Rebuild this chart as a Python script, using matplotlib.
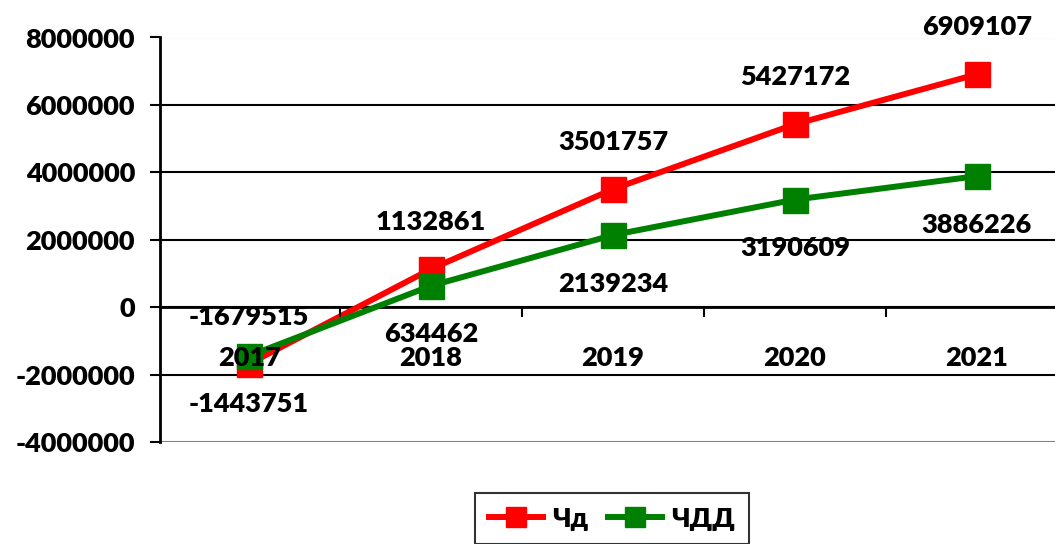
import matplotlib.pyplot as plt
import matplotlib.ticker as mticker

years = ["2017", "2018", "2019", "2020", "2021"]
chd = [-1679515, 1132861, 3501757, 5427172, 6909107]
chdd = [-1443751, 634462, 2139234, 3190609, 3886226]
yticks = [-4000000, -2000000, 0, 2000000, 4000000, 6000000, 8000000]

plt.rcParams['font.family'] = ['Lato', 'DejaVu Sans']
plt.rcParams['font.weight'] = 'heavy'
fs = 19.5

fig = plt.figure(figsize=(10.55, 5.44), dpi=100)
ax = fig.add_axes([160 / 1055, 1 - 442 / 544, 1 - 160 / 1055, (442 - 37.5) / 544])

x = list(range(len(years)))
ax.plot(x, chd, "s-", color="#ff0000", lw=4.3, ms=18, label="Чд", zorder=3)
ax.plot(x, chdd, "s-", color="#008000", lw=4.3, ms=18, label="ЧДД", zorder=4)

for xi, v in zip(x, chd):
    ax.annotate(str(v), (xi, v), xytext=(0, 34), textcoords="offset points",
                ha="center", va="center", fontsize=fs, fontweight="heavy")
for xi, v in zip(x, chdd):
    ax.annotate(str(v), (xi, v), xytext=(0, -35), textcoords="offset points",
                ha="center", va="center", fontsize=fs, fontweight="heavy")

ax.set_ylim(-4000000, 8000000)
ax.set_xlim(-0.49, 4.43)
ax.set_yticks(yticks)
ax.yaxis.set_major_formatter(mticker.FuncFormatter(lambda v, p: "%d" % v))
ax.tick_params(axis="y", length=7, width=1.5, pad=11, labelsize=fs)

ax.set_xticks(x)
ax.set_xticklabels(years)
ax.set_xticks([0.5, 1.5, 2.5, 3.5], minor=True)
ax.tick_params(axis="x", which="major", length=0, pad=28, labelsize=fs)
ax.tick_params(axis="x", which="minor", length=7, width=1.5, direction="out")

ax.yaxis.grid(True, color="black", lw=1.5)
gl = ax.get_ygridlines()
gl[0].set_color("gray")
gl[-1].set_color("gray")
ax.set_axisbelow(True)
ax.xaxis.set_zorder(5)

ax.spines["top"].set_visible(False)
ax.spines["right"].set_visible(False)
ax.spines["bottom"].set_position(("data", 0))
ax.spines["bottom"].set_linewidth(2)
ax.spines["left"].set_linewidth(2)

leg = fig.legend(loc="upper center", bbox_to_anchor=(612 / 1055, 1 - 485 / 544),
                 ncol=2, fontsize=fs, frameon=True, fancybox=False, edgecolor="black",
                 handlelength=2.0, markerscale=0.8, columnspacing=0.7, handletextpad=0.35,
                 borderpad=0.5, borderaxespad=0.3)
leg.get_frame().set_linewidth(1.5)

fig.savefig("out.png", dpi=100)
